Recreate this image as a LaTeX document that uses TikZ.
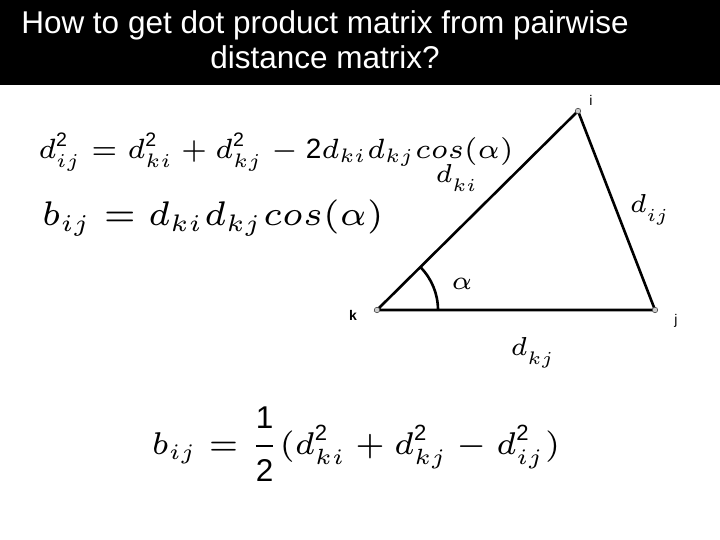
\RequirePackage{fix-cm}
\documentclass[tikz,border=0pt]{standalone}
\usepackage{amsmath}
\usepackage{fontspec}
\setmainfont{Liberation Sans}
\DeclareMathSizes{6}{6}{4.2}{3}
\usetikzlibrary{angles}
\tikzset{
  side/.style={line width=2.6pt},
  vertex/.style={circle,draw=black!70,fill=black!20,line width=0.6pt,inner sep=0pt,minimum size=5.5pt},
  vlabel/.style={font=\fontsize{14}{16}\selectfont},
  formula/.style={font=\fontsize{6}{7}\selectfont,inner sep=0.5pt,transform shape}
}
\newcommand{\tw}{\text{2}}
\newcommand{\lowsub}[1]{_{\raisebox{-1pt}{$\scriptstyle #1$}}}
\begin{document}
\begin{tikzpicture}[x=1pt,y=1pt]
\useasboundingbox (0,0) rectangle (720,540);
% title bar
\fill[black] (0,455) rectangle (720,540);
\node[text=white,align=center,font=\fontsize{31.5}{35}\selectfont] (title) at (325,500)
  {How to get dot product matrix from pairwise\\distance matrix?};
% formulas
\node[formula,anchor=west,scale=4.65] (eqa) at (35,388)
  {$d_{ij}^{\tw}=d_{ki}^{\tw}+d_{kj}^{\tw}-\tw d_{ki}d_{kj}cos(\alpha)$};
\node[formula,anchor=west,scale=5.7] (eqb) at (38,322)
  {$b_{ij}=d_{ki}d_{kj}cos(\alpha)$};
\node[formula,scale=5.25] (eqc) at (356,96)
  {$b_{ij}=\dfrac{\text{1}}{\tw}(d_{ki}^{\tw}+d_{kj}^{\tw}-d_{ij}^{\tw})$};
% triangle
\coordinate (k) at (377,230);
\coordinate (i) at (578,429);
\coordinate (j) at (655,230);
\draw[side] (k) -- (i) -- (j) -- cycle;
\pic[draw,side,angle radius=61pt] {angle=j--k--i};
\node[vertex] (kv) at (k) {};
\node[vertex] (iv) at (i) {};
\node[vertex] (jv) at (j) {};
\node[vlabel] (kl) at (353,225) {\textbf{k}};
\node[vlabel] (il) at (591,440) {i};
\node[vlabel] (jl) at (676,219) {j};
\node[formula,scale=4.33] (dki) at (457,362) {$d\lowsub{ki}$};
\node[formula,scale=4.33] (dij) at (650,330) {$d\lowsub{ij}$};
\node[formula,scale=4.33] (dkj) at (533,187) {$d\lowsub{kj}$};
\node[formula,scale=4.33] (alpha) at (462,256) {$\alpha$};
\end{tikzpicture}
\end{document}
